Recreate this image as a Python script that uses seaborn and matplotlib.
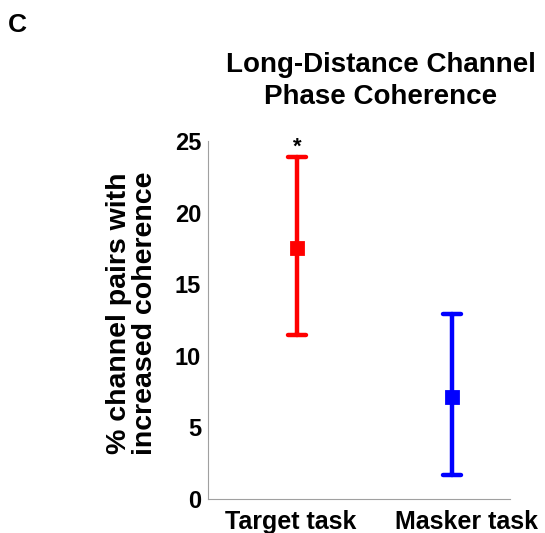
import matplotlib
matplotlib.use("Agg")
import matplotlib.pyplot as plt
import matplotlib.transforms as mtransforms
import seaborn as sns
import pandas as pd

tasks = ["Target task", "Masker task"]
means = [17.55, 7.15]
lower = [11.45, 1.65]
upper = [23.85, 12.95]
colors = ["#ff0000", "#0000ff"]
yticks = [0, 5, 10, 15, 20, 25]

rows = []
for t, lo, m, hi in zip(tasks, lower, means, upper):
    for v in (lo, m, hi):
        rows.append({"task": t, "value": v})
df = pd.DataFrame(rows)

sns.set_theme(style="white")
plt.rcParams["font.family"] = ["Liberation Sans", "DejaVu Sans"]
plt.rcParams["font.weight"] = "bold"
plt.rcParams["text.color"] = "black"
plt.rcParams["axes.labelcolor"] = "black"

fig = plt.figure(figsize=(5.45, 5.33), dpi=100)
ax = fig.add_axes([208/545, 1-499/533, 302/545, 358/533])

sns.pointplot(data=df, x="task", y="value", hue="task", palette=colors,
              estimator="median", errorbar=("pi", 100), capsize=0.11,
              markers="s", linestyles="none", err_kws={"linewidth": 3.2},
              markersize=9, legend=False, ax=ax)

ax.set_xlim(-0.574, 1.374)
ax.set_ylim(0, 25)
ax.set_yticks(yticks)
ax.set_yticklabels([str(v) for v in yticks])
ax.set_xlabel("")
ax.set_ylabel("")
for s in ["top", "right"]:
    ax.spines[s].set_visible(False)
for s in ["left", "bottom"]:
    ax.spines[s].set_color("#a0a0a0")
    ax.spines[s].set_linewidth(0.8)
ax.tick_params(axis="both", direction="in", length=3.5, color="#a0a0a0",
               width=0.8, labelcolor="black")
ax.tick_params(axis="y", pad=5, labelsize=17)
ax.tick_params(axis="x", pad=8, labelsize=18)
for lbl in ax.get_xticklabels() + ax.get_yticklabels():
    lbl.set_fontweight("bold")

# small horizontal offsets of the category labels, as in the reference
for lbl, dx in zip(ax.get_xticklabels(), [-6, 14]):
    lbl.set_transform(lbl.get_transform() +
                      mtransforms.ScaledTranslation(dx / 100, 0, fig.dpi_scale_trans))

ax.text(0, 23.85, "*", ha="center", va="bottom", fontsize=16, fontweight="bold")

fig.text(132/545, 1-313/533, "% channel pairs with\nincreased coherence",
         rotation=90, ha="center", va="center", fontsize=20.5,
         fontweight="bold", linespacing=1.0)
fig.text(381/545, 1-81/533, "Long-Distance Channel\nPhase Coherence", ha="center",
         va="center", fontsize=20, fontweight="bold", linespacing=1.3)
fig.text(8/545, 1-25/533, "C", ha="left", va="center", fontsize=19, fontweight="bold")

fig.savefig("out.png", dpi=100)
